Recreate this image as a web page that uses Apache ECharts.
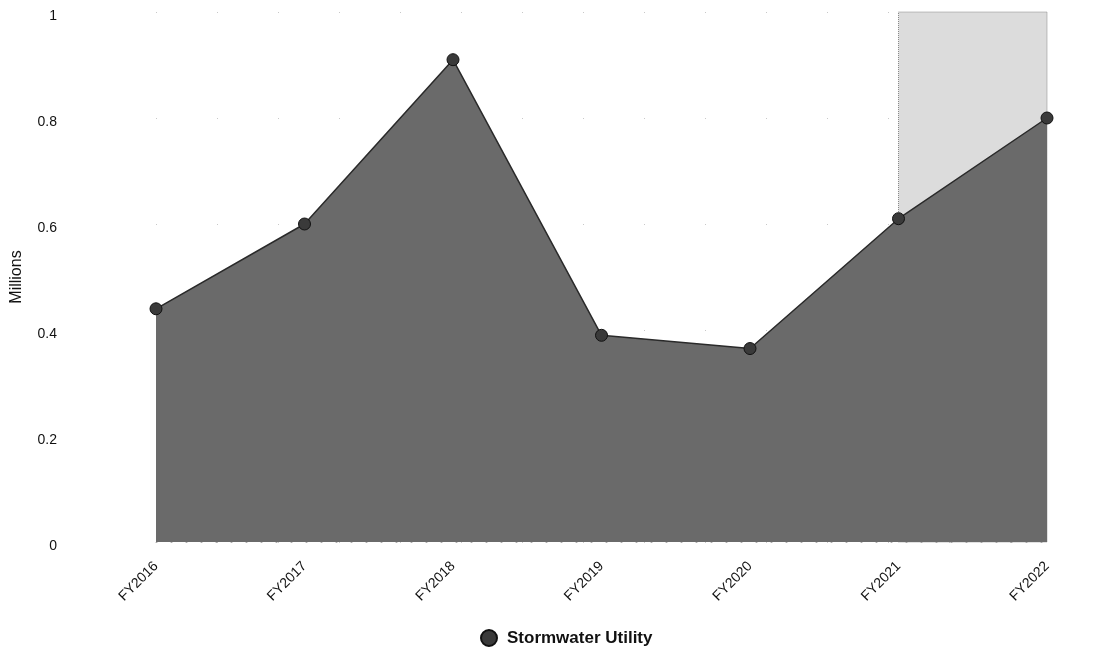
<!DOCTYPE html>
<html>
<head>
<meta charset="utf-8">
<script src="https://cdn.jsdelivr.net/npm/echarts@6/dist/echarts.min.js"></script>
<style>html,body{margin:0;padding:0;background:#fff;}#c{width:1116px;height:656px;}</style>
</head>
<body>
<div id="c"></div>
<script>
const categories = ['FY2016','FY2017','FY2018','FY2019','FY2020','FY2021','FY2022'];
const stormwater = [0.44, 0.60, 0.91, 0.39, 0.365, 0.61, 0.80];
const yTicks = [0, 0.2, 0.4, 0.6, 0.8, 1];
const shadedFrom = 'FY2021';
const shadedTo = 'FY2022';

const chart = echarts.init(document.getElementById('c'), null, {renderer: 'canvas'});
const font = '"Liberation Sans", Arial, sans-serif';
chart.setOption({
  animation: false,
  textStyle: {fontFamily: font},
  grid: {left: 156, right: 69, top: 12, bottom: 114, containLabel: false, outerBoundsMode: 'none'},
  legend: {
    data: ['Stormwater Utility'],
    bottom: 4,
    left: 475,
    icon: 'circle',
    itemWidth: 16, itemHeight: 16,
    itemGap: 10,
    textStyle: {fontSize: 17, fontWeight: 'bold', color: '#111', fontFamily: font, padding: [0, 0, 0, 5]}
  },
  xAxis: {
    type: 'category',
    data: categories,
    boundaryGap: false,
    axisLine: {show: true, lineStyle: {color: '#aaa', type: [1, 14]}},
    axisTick: {show: false},
    axisLabel: {rotate: 45, fontSize: 14, color: '#111', margin: 22, fontFamily: font},
    splitLine: {show: false}
  },
  yAxis: {
    type: 'value',
    min: 0, max: 1, interval: 0.2,
    name: 'Millions',
    nameLocation: 'middle',
    nameGap: 131,
    nameRotate: 90,
    nameTextStyle: {fontSize: 16, color: '#111', fontFamily: font},
    axisLine: {show: false},
    axisTick: {show: false},
    axisLabel: {
      fontSize: 14, color: '#111', margin: 99, fontFamily: font,
      verticalAlign: 'top', lineHeight: 9,
      formatter: v => { const t = yTicks.find(x => Math.abs(x - v) < 1e-9); return t === undefined ? '' : String(t); }
    },
    splitLine: {show: true, lineStyle: {color: '#c8c8c8', type: [1, 60], width: 1}}
  },
  series: [
    {
      name: 'shade',
      type: 'line',
      data: [],
      z: 1,
      silent: true,
      markArea: {
        silent: true,
        itemStyle: {color: '#dcdcdc', borderColor: '#888', borderWidth: 1, borderType: 'dotted'},
        data: [[{xAxis: shadedFrom}, {xAxis: shadedTo}]]
      }
    },
    {
      name: 'Stormwater Utility',
      type: 'line',
      data: stormwater,
      z: 3,
      symbol: 'circle',
      symbolSize: 12,
      showAllSymbol: true,
      lineStyle: {color: '#2a2a2a', width: 1.5},
      itemStyle: {color: '#3a3a3a', borderColor: '#111', borderWidth: 1},
      areaStyle: {color: '#6a6a6a', opacity: 1}
    }
  ]
});
</script>
</body>
</html>
